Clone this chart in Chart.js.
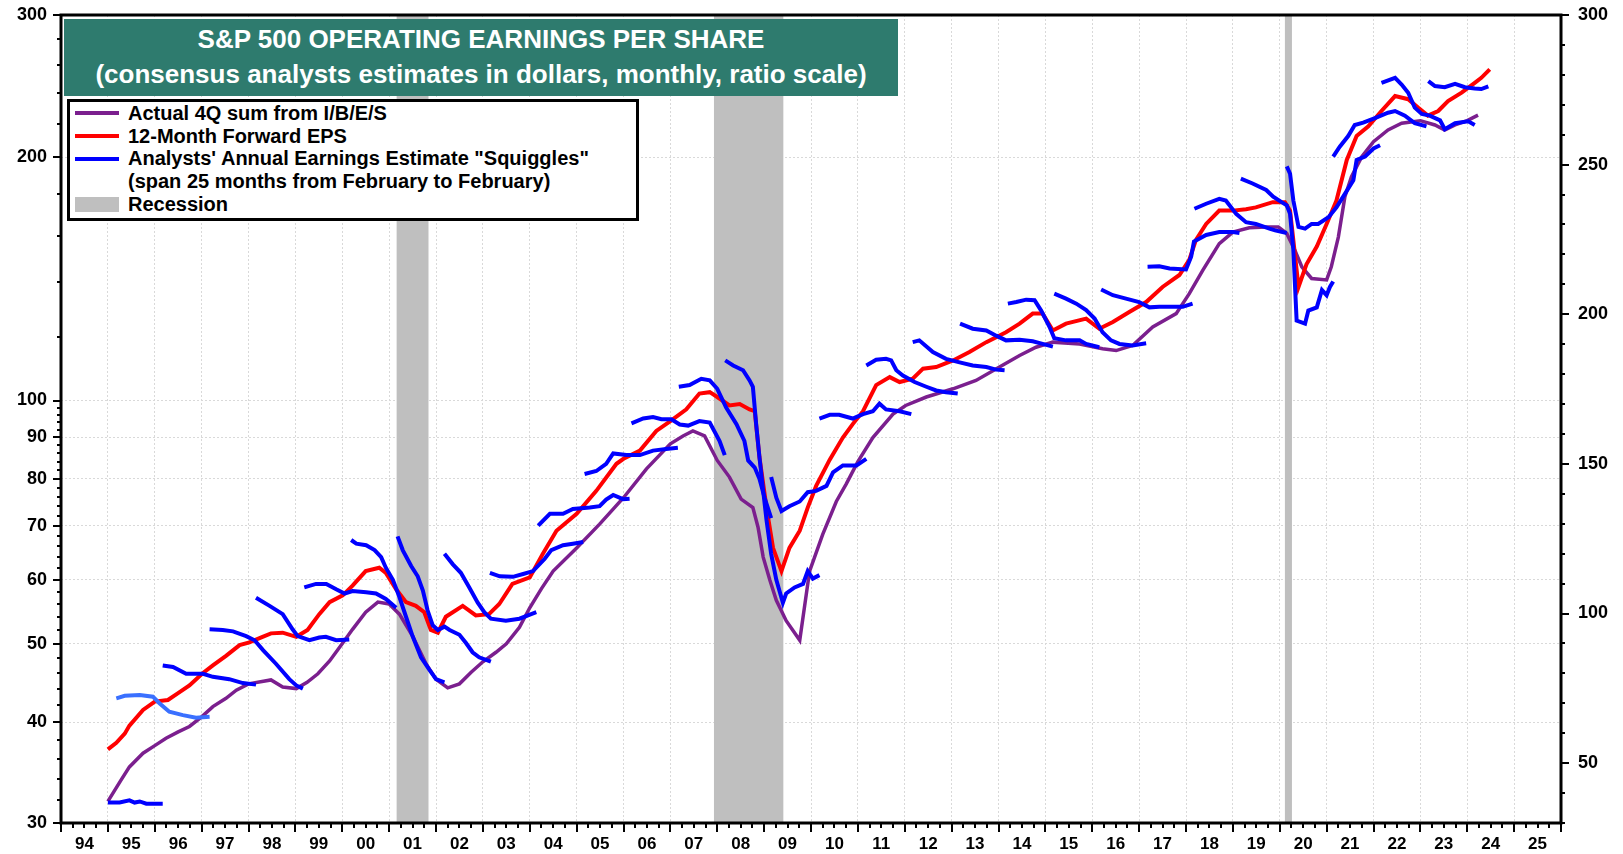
<!DOCTYPE html>
<html>
<head>
<meta charset="utf-8">
<title>S&amp;P 500 Operating Earnings Per Share</title>
<script src="https://cdn.jsdelivr.net/npm/chart.js@4.4.1/dist/chart.umd.min.js"></script>
<style>
  html, body { margin: 0; padding: 0; background: #fff; }
  #wrap { position: relative; width: 1623px; height: 854px; font-family: 'Liberation Sans', Arial, sans-serif; font-weight: bold; }
  #chart { position: absolute; left: 0; top: 0; }
  .title-box { position: absolute; left: 64px; top: 18.5px; width: 834px; height: 77px; background: #2e7b6e; color: #fff; }
  .title-box div { position: absolute; left: 0; width: 100%; text-align: center; font-size: 26px; line-height: 30px; white-space: nowrap; }
  .legend-box { position: absolute; left: 67px; top: 99px; width: 566px; height: 116px; border: 3px solid #000; background: #fff; }
  .lg-row { position: absolute; left: 128px; font-size: 20px; line-height: 22.7px; white-space: nowrap; color: #000; }
  .lg-swatch { position: absolute; left: 75px; width: 44px; }
</style>
</head>
<body>
<div id="wrap">
  <canvas id="chart" width="1623" height="854"></canvas>
  <div class="title-box">
    <div style="top:5.8px">S&amp;P 500 OPERATING EARNINGS PER SHARE</div>
    <div style="top:40.3px">(consensus analysts estimates in dollars, monthly, ratio scale)</div>
  </div>
  <div class="legend-box"></div>
  <div class="lg-swatch" style="top:111px;height:4px;background:#7b1f8e"></div>
  <div class="lg-row" style="top:101.9px">Actual 4Q sum from I/B/E/S</div>
  <div class="lg-swatch" style="top:133.7px;height:4px;background:#ff0000"></div>
  <div class="lg-row" style="top:124.5px">12-Month Forward EPS</div>
  <div class="lg-swatch" style="top:156.5px;height:4px;background:#0000ff"></div>
  <div class="lg-row" style="top:147.2px">Analysts' Annual Earnings Estimate "Squiggles"</div>
  <div class="lg-row" style="top:169.9px">(span 25 months from February to February)</div>
  <div class="lg-swatch" style="top:197.3px;height:15px;background:#bfbfbf"></div>
  <div class="lg-row" style="top:192.5px">Recession</div>
</div>
<script>
// --- data (dates as decimal years) ---
const yearLabels = ['94','95','96','97','98','99','00','01','02','03','04','05','06','07','08','09',
  '10','11','12','13','14','15','16','17','18','19','20','21','22','23','24','25'];
const yMajorTicks = [30, 40, 50, 60, 70, 80, 90, 100, 200, 300];
const rightTickLabels = [50, 100, 150, 200, 250, 300];

const recessionStarts = [2001.16, 2007.93, 2020.11];
const recessionEnds = [2001.84, 2009.41, 2020.26];

const actualDates = [1995.0, 1995.28, 1995.46, 1995.75, 1996.0, 1996.24, 1996.5, 1996.74, 1997.0, 1997.24,
  1997.52, 1997.74, 1998.0, 1998.48, 1998.73, 1999.02, 1999.25, 1999.48, 1999.73, 2000.01,
  2000.22, 2000.5, 2000.76, 2001.0, 2001.22, 2001.5, 2001.79, 2002.0, 2002.25, 2002.5,
  2002.75, 2003.0, 2003.28, 2003.5, 2003.78, 2004.0, 2004.25, 2004.5, 2005.0, 2005.49,
  2006.0, 2006.49, 2007.0, 2007.27, 2007.48, 2007.73, 2008.0, 2008.26, 2008.51, 2008.76,
  2008.87, 2008.98, 2009.12, 2009.26, 2009.47, 2009.76, 2009.97, 2010.25, 2010.54, 2010.75,
  2011.0, 2011.32, 2011.75, 2012.02, 2012.46, 2013.03, 2013.52, 2014.02, 2014.45, 2014.8,
  2015.16, 2015.73, 2016.22, 2016.51, 2016.86, 2017.29, 2017.79, 2018.07, 2018.36, 2018.71,
  2019.0, 2019.35, 2019.7, 2019.97, 2020.15, 2020.32, 2020.47, 2020.68, 2021.0, 2021.1,
  2021.25, 2021.39, 2021.53, 2021.75, 2022.0, 2022.31, 2022.6, 2023.0, 2023.31, 2023.52,
  2023.74, 2024.0, 2024.23];
const actualValues = [31.9, 33.9, 35.2, 36.6, 37.4, 38.2, 38.9, 39.5, 40.6, 41.8,
  42.8, 43.8, 44.6, 45.1, 44.2, 44.0, 44.8, 45.9, 47.6, 50.1,
  52.1, 54.7, 56.3, 56.0, 54.4, 51.1, 47.2, 45.2, 44.1, 44.6,
  46.1, 47.5, 48.8, 50.0, 52.4, 55.4, 58.5, 61.5, 65.7, 70.3,
  75.8, 82.3, 88.4, 90.4, 91.7, 90.4, 84.3, 80.4, 75.5, 73.7,
  69.7, 64.0, 60.0, 56.6, 53.4, 50.5, 61.5, 68.3, 75.0, 78.8,
  84.0, 90.0, 96.2, 98.6, 101.0, 103.4, 105.9, 110.0, 113.7, 116.4,
  118.1, 117.5, 115.9, 115.3, 117.0, 123.3, 128.1, 135.6, 145.0, 156.4,
  161.6, 163.6, 164.0, 164.0, 161.0, 153.6, 146.4, 141.6, 141.0, 146.4,
  159.3, 178.8, 189.3, 200.4, 209.1, 216.2, 220.4, 222.0, 219.3, 216.2,
  219.3, 222.0, 225.5];

const forwardDates = [1995.0, 1995.18, 1995.36, 1995.46, 1995.75, 1996.0, 1996.28, 1996.49, 1996.74, 1997.01,
  1997.24, 1997.52, 1997.81, 1998.02, 1998.3, 1998.48, 1998.73, 1999.02, 1999.26, 1999.51,
  1999.73, 2000.01, 2000.22, 2000.5, 2000.79, 2000.93, 2001.15, 2001.36, 2001.57, 2001.75,
  2001.89, 2002.04, 2002.21, 2002.57, 2002.85, 2003.13, 2003.35, 2003.63, 2004.0, 2004.28,
  2004.57, 2005.0, 2005.42, 2005.85, 2006.0, 2006.35, 2006.7, 2007.0, 2007.34, 2007.62,
  2007.84, 2008.0, 2008.26, 2008.48, 2008.69, 2008.8, 2008.9, 2009.05, 2009.19, 2009.37,
  2009.54, 2009.76, 2009.93, 2010.11, 2010.4, 2010.68, 2010.89, 2011.11, 2011.39, 2011.68,
  2011.89, 2012.17, 2012.39, 2012.67, 2013.03, 2013.38, 2013.74, 2014.16, 2014.45, 2014.73,
  2014.94, 2015.16, 2015.44, 2015.87, 2016.15, 2016.44, 2016.79, 2017.15, 2017.5, 2017.86,
  2018.07, 2018.21, 2018.43, 2018.71, 2019.0, 2019.28, 2019.49, 2019.85, 2020.11, 2020.22,
  2020.4, 2020.57, 2020.79, 2021.0, 2021.21, 2021.43, 2021.64, 2021.89, 2022.17, 2022.46,
  2022.74, 2022.95, 2023.16, 2023.38, 2023.59, 2023.88, 2024.16, 2024.3, 2024.48];
const forwardValues = [37.0, 37.7, 38.7, 39.6, 41.4, 42.4, 42.6, 43.4, 44.4, 45.9,
  47.0, 48.3, 49.8, 50.2, 51.0, 51.5, 51.6, 51.0, 52.0, 54.4,
  56.3, 57.4, 59.0, 61.5, 62.1, 61.2, 58.4, 56.3, 55.7, 54.7,
  52.0, 51.6, 54.0, 55.7, 54.2, 54.4, 56.0, 59.3, 60.4, 64.6,
  69.0, 72.4, 77.3, 83.5, 84.7, 86.7, 91.7, 94.3, 97.5, 102.0,
  102.4, 101.0, 98.6, 99.0, 97.5, 97.0, 85.1, 73.7, 65.7, 61.5,
  65.7, 69.0, 73.7, 78.4, 84.5, 90.0, 93.5, 97.0, 104.5, 106.9,
  105.4, 106.4, 109.5, 110.0, 112.1, 114.8, 118.1, 121.5, 124.5, 128.1,
  128.1, 122.1, 124.5, 126.3, 122.7, 125.1, 128.7, 132.4, 138.2, 143.0,
  149.3, 158.0, 165.4, 171.8, 171.8, 172.5, 173.4, 176.0, 176.0, 171.8,
  138.2, 147.4, 155.1, 165.4, 176.8, 198.5, 212.5, 218.4, 228.2, 238.1,
  236.0, 230.4, 225.2, 228.2, 234.7, 240.4, 247.3, 250.8, 257.0];

// one squiggle per estimated year, each about 25 months long
const squiggleYears = [1995, 1996, 1997, 1998, 1999, 2000, 2001, 2002, 2003, 2004, 2005, 2006, 2007, 2008, 2009,
  2010, 2011, 2012, 2013, 2014, 2015, 2016, 2017, 2018, 2019, 2020, 2021, 2022, 2023, 2024];
const squiggleDates = [
  [1995.0, 1995.25, 1995.46, 1995.57, 1995.68, 1995.82, 1996.17],
  [1995.18, 1995.36, 1995.68, 1995.96, 1996.1, 1996.31, 1996.6, 1996.88, 1997.17],
  [1996.17, 1996.39, 1996.67, 1997.03, 1997.24, 1997.59, 1997.88, 1998.16],
  [1997.17, 1997.45, 1997.67, 1997.95, 1998.13, 1998.31, 1998.59, 1998.87, 1999.02, 1999.16],
  [1998.16, 1998.45, 1998.73, 1998.94, 1999.05, 1999.3, 1999.51, 1999.65, 1999.87, 2000.15],
  [1999.19, 1999.44, 1999.66, 1999.87, 2000.05, 2000.22, 2000.51, 2000.72, 2000.93, 2001.15],
  [2000.19, 2000.3, 2000.51, 2000.69, 2000.83, 2000.93, 2001.08, 2001.22, 2001.36, 2001.5, 2001.68, 2001.86, 2002.0, 2002.18],
  [2001.18, 2001.29, 2001.47, 2001.61, 2001.72, 2001.82, 2001.93, 2002.04, 2002.18, 2002.29, 2002.5, 2002.64, 2002.78, 2002.92, 2003.17],
  [2002.18, 2002.36, 2002.53, 2002.71, 2002.89, 2003.03, 2003.17, 2003.49, 2003.78, 2003.99, 2004.14],
  [2003.15, 2003.36, 2003.64, 2003.86, 2004.07, 2004.32, 2004.46, 2004.71, 2004.92, 2005.14],
  [2004.18, 2004.43, 2004.71, 2004.92, 2005.28, 2005.49, 2005.63, 2005.78, 2005.99, 2006.13],
  [2005.17, 2005.42, 2005.63, 2005.78, 2006.06, 2006.35, 2006.63, 2006.91, 2007.16],
  [2006.17, 2006.42, 2006.63, 2006.81, 2007.02, 2007.2, 2007.38, 2007.62, 2007.84, 2008.05, 2008.16],
  [2007.18, 2007.41, 2007.66, 2007.84, 2008.0, 2008.19, 2008.41, 2008.58, 2008.66, 2008.8, 2008.9, 2009.01, 2009.15],
  [2008.17, 2008.34, 2008.55, 2008.69, 2008.76, 2008.83, 2008.9, 2008.98, 2009.05, 2009.15, 2009.26, 2009.4, 2009.47, 2009.65, 2009.83, 2009.93, 2010.04, 2010.18],
  [2009.15, 2009.26, 2009.37, 2009.54, 2009.76, 2009.93, 2010.11, 2010.33, 2010.47, 2010.68, 2010.97, 2011.18],
  [2010.18, 2010.4, 2010.6, 2010.89, 2011.11, 2011.32, 2011.46, 2011.6, 2011.89, 2012.14],
  [2011.18, 2011.39, 2011.6, 2011.71, 2011.82, 2011.96, 2012.21, 2012.46, 2012.67, 2012.88, 2013.13],
  [2012.17, 2012.31, 2012.6, 2012.88, 2013.17, 2013.45, 2013.74, 2013.95, 2014.13],
  [2013.18, 2013.45, 2013.74, 2013.95, 2014.16, 2014.45, 2014.73, 2014.94, 2015.16],
  [2014.2, 2014.38, 2014.59, 2014.77, 2014.91, 2015.09, 2015.19, 2015.44, 2015.73, 2015.87, 2016.15],
  [2015.19, 2015.44, 2015.66, 2015.87, 2016.05, 2016.22, 2016.4, 2016.58, 2016.86, 2017.15],
  [2016.19, 2016.44, 2016.72, 2017.0, 2017.22, 2017.43, 2017.72, 2017.93, 2018.14],
  [2017.18, 2017.43, 2017.65, 2018.0, 2018.11, 2018.17, 2018.43, 2018.71, 2019.0, 2019.14],
  [2018.18, 2018.43, 2018.71, 2018.85, 2019.07, 2019.28, 2019.49, 2019.78, 2019.9, 2020.15],
  [2019.17, 2019.42, 2019.71, 2019.86, 2020.04, 2020.15, 2020.22, 2020.29, 2020.36, 2020.54, 2020.61, 2020.79, 2020.9, 2021.0, 2021.07, 2021.14],
  [2020.15, 2020.22, 2020.29, 2020.4, 2020.54, 2020.68, 2020.82, 2021.04, 2021.21, 2021.39, 2021.57, 2021.64, 2021.82, 2022.0, 2022.14],
  [2021.14, 2021.28, 2021.46, 2021.6, 2021.78, 2022.03, 2022.31, 2022.46, 2022.67, 2022.88, 2023.13],
  [2022.17, 2022.46, 2022.6, 2022.74, 2022.88, 2023.03, 2023.2, 2023.42, 2023.52, 2023.74, 2024.02, 2024.16],
  [2023.17, 2023.31, 2023.52, 2023.74, 2023.95, 2024.16, 2024.3, 2024.45]
];
const squiggleValues = [
  [31.8, 31.8, 32.0, 31.8, 31.9, 31.7, 31.7],
  [42.8, 43.1, 43.2, 43.0, 42.2, 41.2, 40.8, 40.5, 40.6],
  [47.0, 46.8, 45.9, 45.9, 45.5, 45.2, 44.7, 44.5],
  [52.1, 52.0, 51.8, 51.1, 50.5, 49.1, 47.2, 45.2, 44.4, 44.0],
  [57.0, 55.7, 54.4, 52.1, 51.1, 50.5, 50.9, 51.0, 50.5, 50.6],
  [58.7, 59.3, 59.3, 58.4, 57.7, 58.1, 57.9, 57.7, 56.8, 55.4],
  [67.2, 66.5, 66.2, 65.3, 64.0, 62.1, 60.0, 57.1, 54.0, 51.1, 48.1, 46.4, 45.2, 44.8],
  [67.9, 65.3, 62.4, 60.6, 58.2, 55.0, 52.7, 52.0, 52.5, 52.0, 51.3, 50.1, 48.8, 48.1, 47.5],
  [64.6, 62.7, 61.2, 58.7, 56.2, 54.7, 53.7, 53.4, 53.7, 54.3, 54.7],
  [61.2, 60.6, 60.5, 61.0, 61.5, 63.7, 65.3, 66.2, 66.5, 66.8],
  [70.0, 72.4, 72.4, 73.4, 73.7, 74.0, 75.4, 76.4, 75.5, 75.6],
  [81.1, 81.8, 83.5, 86.0, 85.6, 85.6, 86.7, 87.1, 87.4],
  [93.7, 95.0, 95.4, 94.8, 94.8, 93.4, 93.1, 94.3, 93.9, 89.1, 85.6],
  [104.0, 104.5, 106.4, 105.9, 103.4, 98.0, 93.5, 89.1, 84.3, 82.6, 80.0, 75.8, 71.5],
  [112.1, 110.5, 109.0, 105.9, 104.0, 93.5, 85.1, 77.3, 71.2, 64.6, 60.0, 56.2, 57.7, 58.7, 59.3, 61.5, 60.2, 60.8],
  [80.4, 75.8, 73.0, 74.0, 75.0, 77.0, 77.3, 78.4, 81.5, 83.1, 83.1, 84.7],
  [95.0, 96.0, 96.0, 95.0, 96.2, 97.0, 99.1, 97.5, 97.0, 96.2],
  [110.5, 112.3, 112.6, 112.1, 109.0, 107.4, 105.4, 104.0, 102.9, 102.4, 102.0],
  [118.1, 118.7, 114.8, 112.6, 111.5, 110.5, 110.0, 109.2, 109.0],
  [124.5, 122.7, 122.1, 120.3, 118.7, 118.9, 118.4, 117.5, 116.6],
  [131.8, 132.4, 133.3, 133.1, 129.2, 123.3, 119.4, 118.7, 118.7, 117.5, 116.4],
  [135.6, 133.7, 131.8, 129.4, 126.3, 121.5, 118.7, 117.5, 117.0, 117.7],
  [137.2, 135.0, 133.7, 132.4, 130.4, 130.6, 130.6, 130.6, 131.8],
  [146.4, 146.6, 145.7, 145.3, 150.7, 157.3, 160.3, 161.6, 161.6, 161.2],
  [172.7, 175.2, 177.7, 176.8, 170.2, 166.2, 165.4, 163.2, 162.4, 161.2],
  [188.2, 185.6, 182.2, 178.8, 176.0, 174.4, 170.2, 153.6, 125.6, 124.5, 129.2, 130.4, 137.0, 135.0, 138.2, 140.4],
  [194.9, 190.8, 176.8, 164.0, 163.2, 165.4, 165.4, 168.6, 173.4, 180.2, 187.3, 198.5, 200.4, 205.1, 207.0],
  [200.4, 206.1, 212.5, 219.3, 220.8, 223.6, 227.1, 228.2, 225.2, 220.4, 218.4],
  [247.3, 250.8, 246.1, 240.4, 230.4, 226.3, 225.2, 222.2, 216.6, 220.4, 221.6, 219.3],
  [248.5, 245.0, 244.2, 246.6, 244.2, 243.3, 242.9, 244.8]
];

// --- chart ---
const FONT = "'Liberation Sans', Arial, sans-serif";
Chart.defaults.font.family = FONT;
Chart.defaults.color = '#000';

const toPoints = (dates, values) => dates.map((d, i) => ({ x: d, y: values[i] }));

// minor ticks on the left ratio scale: every 2 below 100, every 20 above
const yAllTicks = [];
for (let v = 30; v <= 100; v += 2) yAllTicks.push(v);
for (let v = 120; v <= 300; v += 20) yAllTicks.push(v);

const datasets = [
  { label: 'Actual 4Q sum from I/B/E/S', data: toPoints(actualDates, actualValues),
    borderColor: '#7b1f8e', borderWidth: 3.5, order: 3 },
  { label: '12-Month Forward EPS', data: toPoints(forwardDates, forwardValues),
    borderColor: '#ff0000', borderWidth: 4, order: 2 }
];
squiggleYears.forEach((yr, i) => {
  datasets.push({
    label: 'Squiggle ' + yr,
    data: toPoints(squiggleDates[i], squiggleValues[i]),
    borderColor: yr === 1996 ? '#3a70ff' : '#0000ff',
    borderWidth: 4,
    order: 1
  });
});
datasets.forEach(d => { d.pointRadius = 0; d.tension = 0; d.fill = false; });

const recessions = {
  id: 'recessions',
  beforeDatasetsDraw(chart) {
    const { ctx, chartArea: a, scales: { x } } = chart;
    ctx.save();
    ctx.fillStyle = '#bfbfbf';
    recessionStarts.forEach((s, i) => {
      const x1 = x.getPixelForValue(s), x2 = x.getPixelForValue(recessionEnds[i]);
      ctx.fillRect(x1, a.top, x2 - x1, a.bottom - a.top);
    });
    ctx.restore();
  }
};

const frame = {
  id: 'frame',
  afterDatasetsDraw(chart) {
    const { ctx, chartArea: a, scales } = chart;
    ctx.save();
    ctx.strokeStyle = '#000';
    ctx.lineWidth = 2;
    ctx.beginPath();
    scales.y.ticks.forEach(t => {
      const py = Math.round(scales.y.getPixelForValue(t.value));
      const len = yMajorTicks.includes(t.value) ? 8 : 4;
      ctx.moveTo(a.left - len, py); ctx.lineTo(a.left, py);
    });
    scales.y2.ticks.forEach(t => {
      const py = Math.round(scales.y2.getPixelForValue(t.value));
      const len = t.value % 50 === 0 ? 8 : 4;
      ctx.moveTo(a.right, py); ctx.lineTo(a.right + len, py);
    });
    scales.x.ticks.forEach(t => {
      const px = Math.round(scales.x.getPixelForValue(t.value));
      const len = Number.isInteger(t.value) ? 9 : 5;
      ctx.moveTo(px, a.bottom); ctx.lineTo(px, a.bottom + len);
    });
    ctx.stroke();
    ctx.lineWidth = 3;
    ctx.strokeRect(a.left, a.top, a.right - a.left, a.bottom - a.top);
    ctx.restore();
  }
};

const gridStyle = (isMajor) => (ctx) => (ctx.tick && isMajor(ctx.tick.value)) ? '#d9d9d9' : 'rgba(0,0,0,0)';
// keep the plot box fixed: no extra room for half labels at the ends
const noEndPadding = (axis) => { axis.paddingTop = 0; axis.paddingBottom = 0; axis.paddingLeft = 0; axis.paddingRight = 0; };

new Chart(document.getElementById('chart'), {
  type: 'line',
  data: { datasets },
  options: {
    responsive: false,
    animation: false,
    layout: { padding: { top: 15, left: 0, right: 0, bottom: 0 } },
    plugins: { legend: { display: false }, tooltip: { enabled: false } },
    scales: {
      x: {
        type: 'linear', min: 1994, max: 2026,
        afterBuildTicks: (axis) => {
          const t = [];
          for (let q = 0; q <= 128; q++) t.push({ value: 1994 + q * 0.25 });
          axis.ticks = t;
        },
        afterFit: (axis) => { axis.height = 31; noEndPadding(axis); },
        grid: { color: gridStyle(v => Number.isInteger(v)), lineWidth: 1, drawTicks: false },
        border: { display: false, dash: [2, 2] },
        ticks: {
          autoSkip: false, maxRotation: 0, minRotation: 0, padding: 11,
          font: { size: 17, weight: 'bold' },
          callback: (v) => (v - Math.floor(v) === 0.5) ? yearLabels[Math.floor(v) - 1994] : ''
        }
      },
      y: {
        type: 'logarithmic', position: 'left', min: 30, max: 300,
        afterBuildTicks: (axis) => { axis.ticks = yAllTicks.map(v => ({ value: v })); },
        afterFit: (axis) => { axis.width = 61; noEndPadding(axis); },
        grid: { color: gridStyle(v => yMajorTicks.includes(v)), lineWidth: 1, drawTicks: false },
        border: { display: false, dash: [2, 2] },
        ticks: {
          autoSkip: false, padding: 14,
          font: { size: 18, weight: 'bold' },
          callback: (v) => yMajorTicks.includes(v) ? String(v) : ''
        }
      },
      y2: {
        type: 'linear', position: 'right', min: 30, max: 300, display: true,
        afterBuildTicks: (axis) => {
          const t = [];
          for (let v = 30; v <= 300; v += 10) t.push({ value: v });
          axis.ticks = t;
        },
        afterFit: (axis) => { axis.width = 62; noEndPadding(axis); },
        grid: { display: false, drawTicks: false },
        border: { display: false },
        ticks: {
          autoSkip: false, padding: 17,
          font: { size: 18, weight: 'bold' },
          callback: (v) => rightTickLabels.includes(v) ? String(v) : ''
        }
      }
    }
  },
  plugins: [recessions, frame]
});
</script>
</body>
</html>
